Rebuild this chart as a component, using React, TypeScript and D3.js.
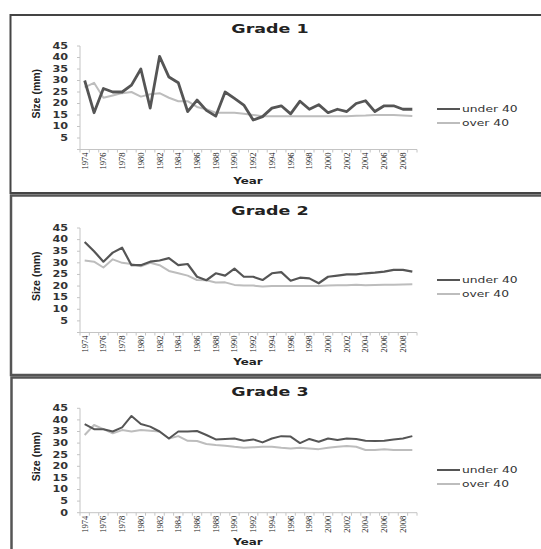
import React from 'react';
import * as d3 from 'd3';

// categories
const years = [
  1974, 1975, 1976, 1977, 1978, 1979, 1980, 1981, 1982, 1983, 1984, 1985,
  1986, 1987, 1988, 1989, 1990, 1991, 1992, 1993, 1994, 1995, 1996, 1997,
  1998, 1999, 2000, 2001, 2002, 2003, 2004, 2005, 2006, 2007, 2008, 2009
];

// Grade 1
const g1Under = [
  30, 16, 26.5, 25, 25, 28, 35, 18, 40.5, 31.5, 29, 16.5,
  21.5, 17, 14.5, 25, 22.2, 19.3, 12.8, 14.3, 18, 19, 15.5, 21,
  17.5, 19.5, 16, 17.5, 16.5, 20, 21.2, 16.5, 19, 19, 17.5, 17.5
];
const g1Over = [
  27, 29, 22.5, 23.5, 24.5, 25, 23, 24, 24.5, 22.5, 21, 21,
  18.5, 17.5, 16, 16, 16, 15.5, 15, 14.5, 14.5, 14.5, 14.5, 14.5,
  14.5, 14.5, 14.5, 14.5, 14.5, 14.7, 14.8, 15, 15, 15, 14.8, 14.6
];

// Grade 2
const g2Under = [
  39, 35, 30.5, 34.4, 36.5, 29, 29, 30.5, 31, 32, 29, 29.5,
  24, 22.5, 25.5, 24.5, 27.5, 24, 24, 22.6, 25.5, 26, 22.3, 23.6,
  23.3, 21.2, 24, 24.5, 25, 25, 25.5, 25.8, 26.2, 27, 27, 26.2
];
const g2Over = [
  31, 30.5, 28, 31.5, 30, 29.5, 28.5, 30, 29, 26.5, 25.5, 24.5,
  22.6, 22.5, 21.5, 21.6, 20.5, 20.2, 20.2, 19.8, 20, 20, 20, 20,
  20, 20, 20.2, 20.3, 20.4, 20.6, 20.4, 20.5, 20.6, 20.6, 20.7, 20.8
];

// Grade 3
const g3Under = [
  38.2, 36, 36, 35, 36.8, 41.7, 38.2, 37.1, 35, 32, 35, 35,
  35.2, 33.5, 31.6, 31.8, 32, 31, 31.6, 30.3, 32, 33, 32.8, 30,
  31.8, 30.6, 32, 31.3, 32, 31.8, 31, 30.9, 31, 31.6, 32, 33
];
const g3Over = [
  33.5, 37.8, 36, 34.2, 35.6, 35, 35.6, 35.3, 35, 32, 33, 31,
  30.9, 29.6, 29.2, 28.9, 28.4, 28, 28.2, 28.4, 28.4, 28, 27.7, 28,
  27.7, 27.4, 28, 28.4, 28.7, 28.4, 27, 27, 27.3, 27, 27, 27
];

const yTicksNoZero = [5, 10, 15, 20, 25, 30, 35, 40, 45];
const yTicksZero = [0, 5, 10, 15, 20, 25, 30, 35, 40, 45];
const seriesNames = ['under 40', 'over 40'];

const X0 = 80;
const X1 = 417;
const SX = 1.4; // the source image is stretched horizontally
const sans = 'DejaVu Sans, Verdana, sans-serif';

function Panel({ title, titleY, top, bottom, yearY, legY, under, over, ticks, underW }) {
  const x = d3.scaleBand<number>().domain(years).range([X0, X1]);
  const y = d3.scaleLinear().domain([0, 45]).range([bottom, top]);
  const cx = (i) => x(years[i]) + x.bandwidth() / 2;
  const line = d3.line<number>().x((d, i) => cx(i)).y((d) => y(d));

  return (
    <g>
      <text
        transform={`translate(270,${titleY}) scale(${SX},1)`}
        textAnchor="middle"
        dy="0.35em"
        fontFamily={sans}
        fontWeight="bold"
        fontSize={12.5}
        fill="#222"
      >
        {title}
      </text>

      {/* y axis */}
      <line x1={X0} x2={X0} y1={y(45)} y2={y(0)} stroke="#c4c4c4" />
      {yTicksZero.map((t) => (
        <line key={'yt' + t} x1={X0 - 3} x2={X0} y1={y(t)} y2={y(t)} stroke="#c4c4c4" />
      ))}
      {ticks.map((t) => (
        <text
          key={'yl' + t}
          transform={`translate(68,${y(t)}) scale(${SX},1)`}
          textAnchor="end"
          dy="0.35em"
          fontFamily={sans}
          fontWeight="bold"
          fontSize={8}
          fill="#333"
        >
          {t}
        </text>
      ))}
      <text
        transform={`translate(36,${(y(45) + y(0)) / 2 - 4}) rotate(-90)`}
        textAnchor="middle"
        dy="0.35em"
        fontFamily="Liberation Sans Narrow, Liberation Sans, sans-serif"
        fontWeight="bold"
        fontSize={10.5}
        fill="#222"
      >
        Size (mm)
      </text>

      {/* x axis */}
      <line x1={X0} x2={X1} y1={y(0)} y2={y(0)} stroke="#c4c4c4" />
      {years.map((yr) => (
        <line
          key={'xt' + yr}
          x1={x(yr)}
          x2={x(yr)}
          y1={y(0)}
          y2={y(0) + 3}
          stroke="#c4c4c4"
        />
      ))}
      <line x1={X1} x2={X1} y1={y(0)} y2={y(0) + 3} stroke="#c4c4c4" />
      {years
        .filter((yr, i) => i % 2 === 0)
        .map((yr) => (
          <text
            key={'xl' + yr}
            transform={`translate(${x(yr) + x.bandwidth() / 2},${y(0) + 3}) rotate(-90)`}
            textAnchor="end"
            dy="0.35em"
            fontFamily="Liberation Serif, serif"
            fontSize={8.5}
            fill="#222"
          >
            {yr}
          </text>
        ))}
      <text
        transform={`translate(248,${yearY}) scale(${SX},1)`}
        textAnchor="middle"
        dy="0.35em"
        fontFamily={sans}
        fontWeight="bold"
        fontSize={8.5}
        fill="#222"
      >
        Year
      </text>

      {/* series */}
      <path d={line(over)} fill="none" stroke="#bdbdbd" strokeWidth={2} strokeLinejoin="round" />
      <path d={line(under)} fill="none" stroke="#555" strokeWidth={underW} strokeLinejoin="round" />

      {/* legend */}
      {seriesNames.map((name, i) => (
        <g key={name}>
          <line
            x1={437}
            x2={460}
            y1={legY + i * 14}
            y2={legY + i * 14}
            stroke={i === 0 ? '#555' : '#bdbdbd'}
            strokeWidth={2}
          />
          <text
            transform={`translate(462,${legY + i * 14}) scale(${SX},1)`}
            dy="0.35em"
            fontFamily={sans}
            fontSize={8.8}
            fill="#333"
          >
            {name}
          </text>
        </g>
      ))}
    </g>
  );
}

export default function App() {
  return (
    <div style={{ position: 'absolute', left: 0, top: 0 }}>
      <svg width={541} height={549} style={{ display: 'block', background: '#fff' }}>
        <rect x={10.5} y={15} width={600} height={178} fill="none" stroke="#444" strokeWidth={2} />
        <rect x={11} y={195.5} width={600} height={179.5} fill="none" stroke="#555" strokeWidth={2.5} />
        <rect x={11.5} y={377.5} width={600} height={200} fill="none" stroke="#555" strokeWidth={2.5} />

        <Panel
          title="Grade 1"
          titleY={29}
          top={46}
          bottom={149.5}
          yearY={181}
          legY={109}
          under={g1Under}
          over={g1Over}
          ticks={yTicksNoZero}
          underW={2.8}
        />
        <Panel
          title="Grade 2"
          titleY={211}
          top={228}
          bottom={332.5}
          yearY={362}
          legY={280}
          under={g2Under}
          over={g2Over}
          ticks={yTicksNoZero}
          underW={2.2}
        />
        <Panel
          title="Grade 3"
          titleY={392}
          top={408.3}
          bottom={512.7}
          yearY={542}
          legY={470}
          under={g3Under}
          over={g3Over}
          ticks={yTicksZero}
          underW={2}
        />
      </svg>
    </div>
  );
}
